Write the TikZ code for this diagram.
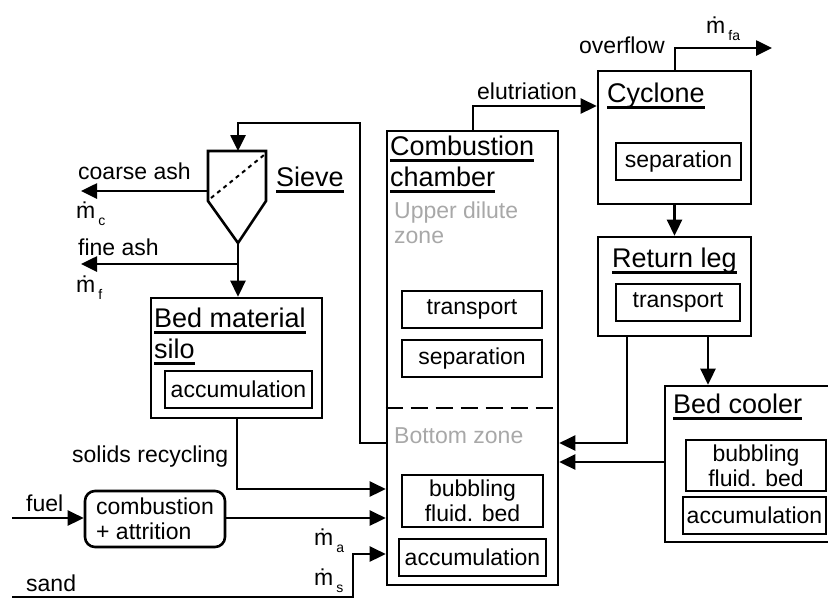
\documentclass[tikz,border=0pt]{standalone}
\usepackage{fontspec}
\setmainfont{Liberation Sans}
\usetikzlibrary{arrows.meta}
\definecolor{zonegray}{RGB}{168,168,168}
\newlength\ulwid
\newcommand\ulx[1]{\setbox0\hbox{#1}\setlength\ulwid{\wd0}\rlap{\box0}\vrule height -4pt depth 6.5pt width \ulwid}
\newcommand\mdt{\ooalign{m\cr\hidewidth\char"02D9\hidewidth\cr}}
\newcommand\msub[1]{\mdt\kern3pt\raisebox{-7pt}{\fontsize{14}{14}\selectfont #1}}
\begin{document}
\begin{tikzpicture}[x=1pt,y=-1pt,
  box/.style={draw, line width=2.6pt, inner sep=0pt},
  ibox/.style={draw, line width=2.6pt, inner sep=0pt, align=center, font=\fontsize{23}{25}\selectfont},
  ttl/.style={anchor=base west, inner sep=0pt, align=left, font=\fontsize{27}{31}\selectfont},
  lbl/.style={anchor=base west, inner sep=0pt, align=left, font=\fontsize{23}{25}\selectfont},
  zone/.style={lbl, text=zonegray},
  arr/.style={line width=2.6pt, -{Triangle[length=16pt,width=15pt]}},
  ln/.style={line width=2.6pt}]
\useasboundingbox (0,0) rectangle (828,598);

% main boxes
\node[box, minimum width=171pt, minimum height=120pt] (silo) at (236.5,358) {};
\node[box, minimum width=171pt, minimum height=454pt] (cc) at (472.5,358) {};
\node[box, minimum width=153pt, minimum height=133pt] (cyc) at (674.5,137.5) {};
\node[box, minimum width=153pt, minimum height=99pt] (ret) at (674.5,286.5) {};
\node[box, minimum width=167pt, minimum height=156pt] (cool) at (748.5,464) {};
\node[box, rounded corners=10pt, minimum width=140pt, minimum height=56pt, align=left,
      font=\fontsize{23}{25}\selectfont] (fuelbox) at (155,519) {combustion\\+ attrition};

% inner boxes
\node[ibox, minimum width=147pt, minimum height=37pt] (siloacc) at (238.5,389.5) {accumulation};
\node[ibox, minimum width=140pt, minimum height=37pt] (cctr) at (472,309.5) {transport};
\node[ibox, minimum width=140pt, minimum height=37pt] (ccsep) at (472,358.5) {separation};
\node[ibox, minimum width=141pt, minimum height=52pt] (ccbub) at (472.5,501) {bubbling\\fluid. bed};
\node[ibox, minimum width=147pt, minimum height=37pt] (ccacc) at (472.5,557.5) {accumulation};
\node[ibox, minimum width=125pt, minimum height=37pt] (cysep) at (678.5,161.5) {separation};
\node[ibox, minimum width=124pt, minimum height=37pt] (rettr) at (678,302.5) {transport};
\node[ibox, minimum width=140pt, minimum height=51pt] (coolbub) at (756,465.5) {bubbling\\fluid. bed};
\node[ibox, minimum width=143pt, minimum height=37pt] (coolacc) at (754.5,515.5) {accumulation};

% titles (base anchor = baseline of last line)
\node[ttl] (tcc) at (390,186) {\ulx{Combustion}\\\ulx{chamber}};
\node[ttl] (tcyc) at (607,102) {\ulx{Cyclone}};
\node[ttl] (tsieve) at (276,186) {\ulx{Sieve}};
\node[ttl] (tsilo) at (154,358) {\ulx{Bed material}\\\ulx{silo}};
\node[ttl] (tret) at (612,267) {\ulx{Return leg}};
\node[ttl] (tcool) at (673,413) {\ulx{Bed cooler}};
\node[zone] (zup) at (394,243) {Upper dilute\\zone};
\node[zone] (zbot) at (394,443) {Bottom zone};

% zone separator
\draw[line width=2.6pt, dash pattern=on 17pt off 8pt] (cc.west |- 0,408) coordinate (dl) -- (cc.east |- 0,408) coordinate (dr);

% sieve
\coordinate (sievetop) at (238,151);
\coordinate (sieveapex) at (238,243);
\coordinate (sieveleft) at (208,191);
\draw[ln, line join=miter] (208,151) -- (266,151) -- (266,201) -- (sieveapex) -- (208,201) -- cycle;
\draw[line width=2pt, dash pattern=on 4pt off 4pt] (211,198) -- (264,155);

% connectors
\coordinate (ccrec) at (cc.west |- 0,443);
\draw[arr] (ccrec) -- (360,443) -- (360,123) -- (238,123) -- (sievetop);
\coordinate (coarseend) at (81,191);
\draw[arr] (sieveleft) -- (coarseend);
\draw[arr] (sieveapex) -- (silo.north -| sieveapex);
\coordinate (finebr) at (238,264);
\coordinate (fineend) at (81,264);
\draw[arr] (finebr) -- (fineend);
\coordinate (recin) at (cc.west |- 0,489);
\draw[arr] (silo.south -| 237,0) -- (237,489) -- (recin);
\coordinate (fuelstart) at (12,518);
\draw[arr] (fuelstart) -- (fuelbox.west |- fuelstart);
\draw[arr] (fuelbox.east |- fuelstart) -- (cc.west |- fuelstart);
\coordinate (sandstart) at (12,597);
\coordinate (sandin) at (cc.west |- 0,554);
\draw[arr] (sandstart) -- (353,597) -- (353,554) -- (sandin);
\draw[arr] (cc.north -| 473,0) -- (473,106) -- (cyc.west |- 0,106);
\coordinate (ovend) at (772,48);
\draw[arr] (cyc.north -| 675,0) -- (675,48) -- (ovend);
\draw[arr] (cyc.south) -- (ret.north);
\draw[arr] (ret.south -| 627,0) -- (627,443) -- (cc.east |- 0,443);
\draw[arr] (ret.south -| 708,0) -- (cool.north -| 708,0);
\draw[arr] (cool.west |- 0,462) -- (cc.east |- 0,462);

% labels
\node[lbl] (lcoarse) at (78,179) {coarse ash};
\node[lbl] (mc) at (76,218) {\msub{c}};
\node[lbl] (lfine) at (78,255) {fine ash};
\node[lbl] (mf) at (76,292) {\msub{f}};
\node[lbl] (lsolid) at (72,462) {solids recycling};
\node[lbl] (lfuel) at (26,511) {fuel};
\node[lbl] (lsand) at (26,591) {sand};
\node[lbl] (ma) at (314,545) {\msub{a}};
\node[lbl] (ms) at (314,585) {\msub{s}};
\node[lbl] (lelu) at (477,99) {elutriation};
\node[lbl] (lover) at (579,53) {overflow};
\node[lbl] (mfa) at (706,33) {\msub{fa}};
\end{tikzpicture}
\end{document}
